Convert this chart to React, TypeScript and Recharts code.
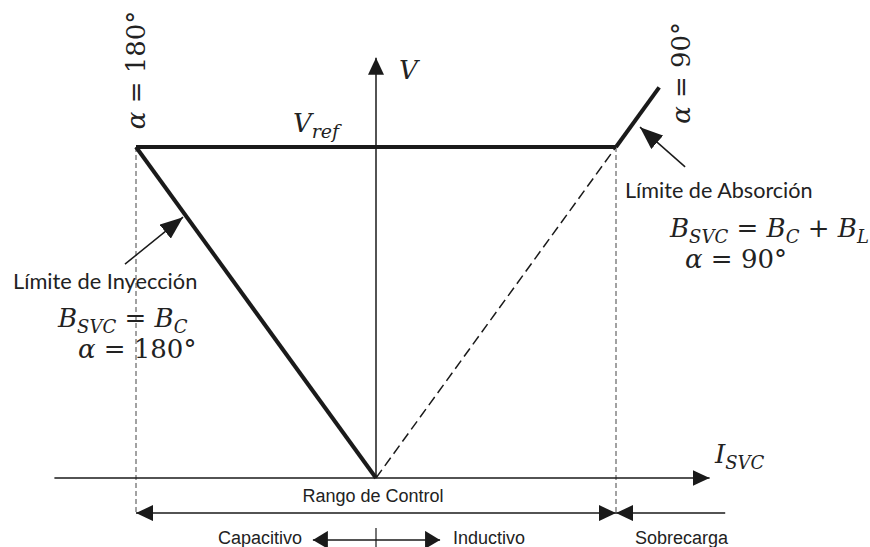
import React from "react";
import { LineChart, Line, XAxis, YAxis, ReferenceDot } from "recharts";

// operating characteristic of the SVC, per unit (I = 1 at the inductive limit, V = Vref = 1)
const vrefSeg = [{ i: -1, v: 1 }, { i: 1, v: 1 }];
const injectionSeg = [{ i: -1, v: 1 }, { i: 0, v: 0 }];
const controlDashed = [{ i: 0, v: 0 }, { i: 1, v: 1 }];
const overloadSeg = [{ i: 1, v: 1 }, { i: 1.18, v: 1.18 }];

const vAxis = [{ i: 0, v: 0 }, { i: 0, v: 1.27 }];
const iAxis = [{ i: -1.34, v: 0 }, { i: 1.39, v: 0 }];
const leftLimit = [{ i: -1, v: 1 }, { i: -1, v: -0.112 }];
const rightLimit = [{ i: 1, v: 1 }, { i: 1, v: -0.112 }];

const rangeArrow = [{ i: -1, v: -0.106 }, { i: 1, v: -0.106 }];
const overloadArrow = [{ i: 1.455, v: -0.106 }, { i: 1, v: -0.106 }];
const modeArrow = [{ i: -0.263, v: -0.187 }, { i: 0.267, v: -0.187 }];
const modeTick = [{ i: 0, v: -0.151 }, { i: 0, v: -0.2085 }];

const injectionPointer = [{ i: -1.046, v: 0.646 }, { i: -0.804, v: 0.788 }];
const absorptionPointer = [{ i: 1.288, v: 0.94 }, { i: 1.1, v: 1.06 }];

const X_DOMAIN = [-1.5, 2.0];
const Y_DOMAIN = [-0.2085, 1.4];

const INK = "#1a1a1a";
const TXT = "#222";
const MATH = "'DejaVu Serif', 'Liberation Serif', serif";
const SANS = "'Liberation Sans Narrow', 'Liberation Sans', Arial, sans-serif";
const CALI = "Lato, 'Open Sans', sans-serif";

type Render = (cx: number, cy: number) => React.ReactElement;

function at(key: string, i: number, v: number, render: Render) {
  return (
    <ReferenceDot
      key={key}
      x={i}
      y={v}
      r={1}
      ifOverflow="visible"
      shape={(p: any) => render(p.cx, p.cy)}
    />
  );
}

function bsvc(cx: number, cy: number, parts: string[]) {
  // parts: subscript after each B
  const kids: React.ReactNode[] = [];
  parts.forEach((s, k) => {
    if (k > 0) {
      kids.push(
        <tspan key={"op" + k} fontStyle="normal" dy={-6}>
          {k === 1 ? " = " : " + "}
        </tspan>
      );
    }
    kids.push(<tspan key={"b" + k}>B</tspan>);
    kids.push(
      <tspan key={"s" + k} fontSize={18} dy={6}>
        {s}
      </tspan>
    );
  });
  return (
    <text x={cx} y={cy} fontFamily={MATH} fontStyle="italic" fontSize={26} fill={TXT} style={{ whiteSpace: "pre" }}>
      {kids}
    </text>
  );
}

function alpha(cx: number, cy: number, deg: string, rotate = false, anchor: "start" | "middle" = "start") {
  return (
    <text
      x={cx}
      y={cy}
      fontFamily={MATH}
      fontSize={26}
      fill={TXT}
      textAnchor={anchor}
      style={{ whiteSpace: "pre" }}
      transform={rotate ? `rotate(-90 ${cx} ${cy})` : undefined}
    >
      <tspan fontStyle="italic">α</tspan>
      <tspan>{" = " + deg + "°"}</tspan>
    </text>
  );
}

function plain(cx: number, cy: number, s: string, font: string, size: number, anchor: "start" | "middle" | "end" = "start") {
  return (
    <text x={cx} y={cy} fontFamily={font} fontSize={size} fill={TXT} textAnchor={anchor}>
      {s}
    </text>
  );
}

export default function App() {
  return (
    <div style={{ position: "absolute", left: 0, top: 0, width: 870, height: 547, background: "#fff" }}>
      <LineChart width={870} height={547} margin={{ top: 14.6, right: 14, bottom: 0, left: 16 }}>
        <defs>
          <marker id="arr" markerUnits="userSpaceOnUse" markerWidth={18} markerHeight={16} refX={17} refY={8} orient="auto-start-reverse">
            <path d="M0,0 L17,8 L0,16 z" fill={INK} />
          </marker>
          <marker id="arrS" markerUnits="userSpaceOnUse" markerWidth={16} markerHeight={18} refX={15} refY={9} orient="auto-start-reverse">
            <path d="M0,0 L15,9 L0,18 z" fill={INK} />
          </marker>
          <marker id="arrB" markerUnits="userSpaceOnUse" markerWidth={24} markerHeight={18} refX={23} refY={9} orient="auto">
            <path d="M0,0 L23,9 L0,18 z" fill={INK} />
          </marker>
        </defs>
        <XAxis type="number" dataKey="i" domain={X_DOMAIN} scale="linear" hide />
        <YAxis type="number" dataKey="v" domain={Y_DOMAIN} scale="linear" hide />

        {/* helper lines */}
        <Line data={leftLimit} dataKey="v" stroke="#444" strokeWidth={1} strokeDasharray="5 3" dot={false} activeDot={false} isAnimationActive={false} />
        <Line data={rightLimit} dataKey="v" stroke="#444" strokeWidth={1} strokeDasharray="5 3" dot={false} activeDot={false} isAnimationActive={false} />
        <Line data={controlDashed} dataKey="v" stroke={INK} strokeWidth={1.5} strokeDasharray="10 5" dot={false} activeDot={false} isAnimationActive={false} />

        {/* axes */}
        <Line data={vAxis} dataKey="v" stroke={INK} strokeWidth={1.5} markerEnd="url(#arr)" dot={false} activeDot={false} isAnimationActive={false} />
        <Line data={iAxis} dataKey="v" stroke={INK} strokeWidth={1.5} markerEnd="url(#arr)" dot={false} activeDot={false} isAnimationActive={false} />

        {/* characteristic */}
        <Line data={vrefSeg} dataKey="v" stroke={INK} strokeWidth={4} dot={false} activeDot={false} isAnimationActive={false} />
        <Line data={injectionSeg} dataKey="v" stroke={INK} strokeWidth={4} dot={false} activeDot={false} isAnimationActive={false} />
        <Line data={overloadSeg} dataKey="v" stroke={INK} strokeWidth={4} dot={false} activeDot={false} isAnimationActive={false} />

        {/* ranges */}
        <Line data={rangeArrow} dataKey="v" stroke={INK} strokeWidth={1.5} markerStart="url(#arr)" markerEnd="url(#arr)" dot={false} activeDot={false} isAnimationActive={false} />
        <Line data={overloadArrow} dataKey="v" stroke={INK} strokeWidth={1.5} markerEnd="url(#arr)" dot={false} activeDot={false} isAnimationActive={false} />
        <Line data={modeArrow} dataKey="v" stroke={INK} strokeWidth={1.5} markerStart="url(#arrS)" markerEnd="url(#arrS)" dot={false} activeDot={false} isAnimationActive={false} />
        <Line data={modeTick} dataKey="v" stroke={INK} strokeWidth={1.2} dot={false} activeDot={false} isAnimationActive={false} />

        {/* pointers */}
        <Line data={injectionPointer} dataKey="v" stroke={INK} strokeWidth={1.5} markerEnd="url(#arrB)" dot={false} activeDot={false} isAnimationActive={false} />
        <Line data={absorptionPointer} dataKey="v" stroke={INK} strokeWidth={1.5} markerEnd="url(#arrB)" dot={false} activeDot={false} isAnimationActive={false} />

        {/* labels */}
        {at("a180v", -0.963, 1.233, (x, y) => alpha(x, y, "180", true, "middle"))}
        {at("a90v", 1.308, 1.224, (x, y) => alpha(x, y, "90", true, "middle"))}
        {at("vref", -0.346, 1.045, (x, y) => (
          <text x={x} y={y} fontFamily={MATH} fontStyle="italic" fontSize={26} fill={TXT}>
            V<tspan fontSize={19} dy={6}>ref</tspan>
          </text>
        ))}
        {at("vlab", 0.096, 1.205, (x, y) => (
          <text x={x} y={y} fontFamily={MATH} fontStyle="italic" fontSize={26} fill={TXT}>V</text>
        ))}
        {at("ilab", 1.4125, 0.045, (x, y) => (
          <text x={x} y={y} fontFamily={MATH} fontStyle="italic" fontSize={26} fill={TXT}>
            I<tspan fontSize={18} dy={6}>SVC</tspan>
          </text>
        ))}
        {at("labs", 1.0375, 0.846, (x, y) => plain(x, y, "Límite de Absorción", CALI, 21.6))}
        {at("babs", 1.225, 0.728, (x, y) => bsvc(x, y, ["SVC", "C", "L"]))}
        {at("aabs", 1.2875, 0.634, (x, y) => alpha(x, y, "90"))}
        {at("linj", -1.5125, 0.571, (x, y) => plain(x, y, "Límite de Inyección", CALI, 21.8))}
        {at("binj", -1.325, 0.456, (x, y) => bsvc(x, y, ["SVC", "C"]))}
        {at("ainj", -1.242, 0.3625, (x, y) => alpha(x, y, "180"))}
        {at("rango", -0.0125, -0.0725, (x, y) => plain(x, y, "Rango de Control", SANS, 18, "middle"))}
        {at("cap", -0.308, -0.2, (x, y) => plain(x, y, "Capacitivo", SANS, 18, "end"))}
        {at("ind", 0.321, -0.2, (x, y) => plain(x, y, "Inductivo", SANS, 18))}
        {at("sob", 1.079, -0.2, (x, y) => plain(x, y, "Sobrecarga", SANS, 18))}
      </LineChart>
    </div>
  );
}
